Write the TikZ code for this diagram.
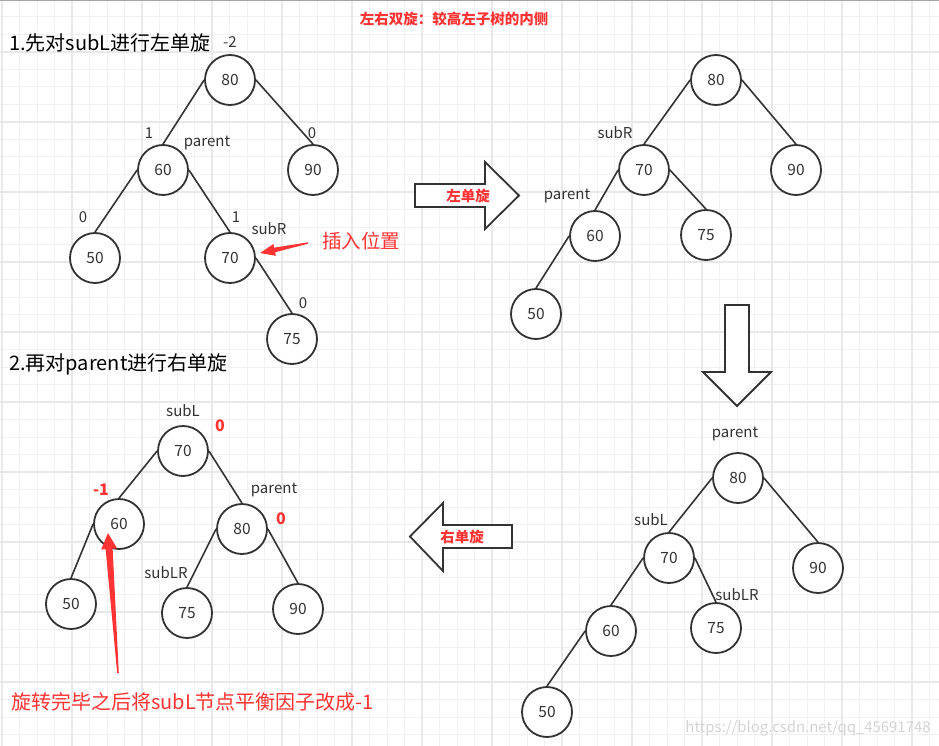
\documentclass[tikz,border=0pt]{standalone}
\usepackage{fontspec}
\setmainfont{Noto Sans CJK SC}
\usetikzlibrary{calc}
\definecolor{ink}{HTML}{333333}
\definecolor{redc}{HTML}{FF3333}
\definecolor{gminor}{HTML}{F1F1F1}
\definecolor{gmajor}{HTML}{E8E8E8}
\definecolor{wmark}{HTML}{D4D4D4}
\newcommand\fsz[1]{\fontsize{#1}{#1}\selectfont}
\newcommand\taperarrow[6]{%
  \coordinate (hb) at ($(#2)!#3!(#1)$);
  \fill[redc] (#2) -- ($(hb)!#4!90:(#1)$) -- ($(hb)!#5!90:(#1)$)
    -- ($(#1)!#6!-90:(#2)$) -- ($(#1)!#6!90:(#2)$)
    -- ($(hb)!#5!-90:(#1)$) -- ($(hb)!#4!-90:(#1)$) -- cycle;
}
\tikzset{
  tn/.style={circle, draw=ink, fill=white, line width=1.8pt, minimum size=50pt,
    inner sep=0pt, font=\fsz{15.5}, text=ink},
  edge/.style={draw=ink, line width=1.6pt},
  lbl/.style={inner sep=0pt, font=\fsz{15}, text=ink},
  rlbl/.style={inner sep=0pt, font=\fsz{16}\bfseries, text=redc},
  title/.style={inner sep=0pt, anchor=west, font=\fsz{20}, text=black},
  blockarrow/.style={draw=ink, fill=white, line width=1.8pt, line join=miter},
  arrlbl/.style={inner sep=0pt, font=\fsz{14.5}\bfseries, text=redc}
}
\begin{document}
\begin{tikzpicture}[x=1pt,y=-1pt]
\useasboundingbox (0,0) rectangle (939,746);
\fill[white] (0,0) rectangle (939,746);
% grid
\foreach \i in {0,...,53} \draw[gminor, line width=1pt] ({2+17.5*\i},0) -- ({2+17.5*\i},746);
\foreach \i in {0,...,42} \draw[gminor, line width=1pt] (0,{-0.5+17.5*\i}) -- (939,{-0.5+17.5*\i});
\foreach \i in {0,...,13} \draw[gmajor, line width=1.3pt] ({2+70*\i},0) -- ({2+70*\i},746);
\foreach \i in {0,...,9} \draw[gmajor, line width=1.3pt] (0,{52+70*\i}) -- (939,{52+70*\i});
\draw[gray!70, line width=1.5pt] (0,0.75) -- (939,0.75);

% headings
\node[inner sep=0pt, font=\fsz{14.5}\bfseries, text=redc] (head) at (454,19) {左右双旋：较高左子树的内侧};
\node[title] (t1) at (9,43) {1.先对subL进行左单旋};
\node[title] (t2) at (9,364) {2.再对parent进行右单旋};

% ---------- tree 1 ----------
\node[tn] (a80) at (230,80) {80};
\node[tn] (a60) at (163,170) {60};
\node[tn] (a90) at (313,170) {90};
\node[tn] (a50) at (95,258) {50};
\node[tn] (a70) at (230,258) {70};
\node[tn] (a75) at (292,339) {75};
\draw[edge] (a80.west) -- (a60.north);
\draw[edge] (a80.east) -- (a90.north);
\draw[edge] (a60.west) -- (a50.north);
\draw[edge] (a60.east) -- (a70.north);
\draw[edge] (a70.east) -- (a75.north);
\node[lbl] (ab80) at (230,42) {-2};
\node[lbl] (ab60) at (149,133) {1};
\node[lbl] (ap60) at (207,143) {parent};
\node[lbl] (ab90) at (312,133) {0};
\node[lbl] (ab50) at (83,217) {0};
\node[lbl] (ab70) at (236,217) {1};
\node[lbl] (as70) at (269,229) {subR};
\node[lbl] (ab75) at (303,303) {0};
\node[inner sep=0pt, font=\fsz{19.5}, text=redc] (ins) at (361,241) {插入位置};
\coordinate (insT) at (308,243);
\coordinate (insH) at (260,253);
\taperarrow{insT}{insH}{15pt}{6pt}{2.3pt}{0.7pt}

% arrow left rotation
\draw[blockarrow] (415,184) -- (485,184) -- (485,162) -- (519,195.5) -- (485,229) -- (485,207) -- (415,207) -- cycle;
\node[arrlbl] (lrot) at (468,195.5) {左单旋};

% ---------- tree 2 ----------
\node[tn] (b80) at (716,80) {80};
\node[tn] (b70) at (644,170) {70};
\node[tn] (b90) at (796,170) {90};
\node[tn] (b60) at (595,236) {60};
\node[tn] (b75) at (706,235) {75};
\node[tn] (b50) at (536,314) {50};
\draw[edge] (b80.west) -- (b70.north);
\draw[edge] (b80.east) -- (b90.north);
\draw[edge] (b70.west) -- (b60.north);
\draw[edge] (b70.east) -- (b75.north);
\draw[edge] (b60.west) -- (b50.north);
\node[lbl] (bs70) at (615,133) {subR};
\node[lbl] (bp60) at (567,196) {parent};

% down arrow
\draw[blockarrow] (725,305) -- (749,305) -- (749,372) -- (771,372) -- (737,406) -- (703,372) -- (725,372) -- cycle;

% ---------- tree 4 (bottom right) ----------
\node[tn] (d80) at (738,478) {80};
\node[tn] (d70) at (669,558) {70};
\node[tn] (d90) at (818,568) {90};
\node[tn] (d60) at (611,631) {60};
\node[tn] (d75) at (716,628) {75};
\node[tn] (d50) at (547,712) {50};
\draw[edge] (d80.west) -- (d70.north);
\draw[edge] (d80.east) -- (d90.north);
\draw[edge] (d70.west) -- (d60.north);
\draw[edge] (d70.east) -- (d75.north);
\draw[edge] (d60.west) -- (d50.north);
\node[lbl] (dp80) at (735,434) {parent};
\node[lbl] (ds70) at (651,520) {subL};
\node[lbl] (ds75) at (737,595) {subLR};

% left arrow
\draw[blockarrow] (512,525) -- (443,525) -- (443,503) -- (410,536.5) -- (443,571) -- (443,548) -- (512,548) -- cycle;
\node[arrlbl] (rrot) at (462,536.5) {右单旋};

% ---------- tree 3 (bottom left) ----------
\node[tn] (c70) at (183,451) {70};
\node[tn] (c60) at (119,524) {60};
\node[tn] (c80) at (242,529) {80};
\node[tn] (c50) at (71,604) {50};
\node[tn] (c75) at (187,613) {75};
\node[tn] (c90) at (298,609) {90};
\draw[edge] (c70.west) -- (c60.north);
\draw[edge] (c70.east) -- (c80.north);
\draw[edge] (c60.west) -- (c50.north);
\draw[edge] (c80.west) -- (c75.north);
\draw[edge] (c80.east) -- (c90.north);
\node[lbl] (cs70) at (183,411) {subL};
\node[rlbl] (cb70) at (220,426) {0};
\node[rlbl] (cb60) at (101,490) {-1};
\node[lbl] (cp80) at (274,490) {parent};
\node[rlbl] (cb80) at (281,519) {0};
\node[lbl] (cs75) at (166,573) {subLR};
\coordinate (noteT) at (118,673);
\coordinate (noteH) at (108,533);
\taperarrow{noteT}{noteH}{16pt}{8pt}{3.5pt}{0.8pt}
\node[inner sep=0pt, anchor=west, font=\fsz{20}, text=redc] (note) at (11,702) {旋转完毕之后将subL节点平衡因子改成-1};

% watermark
\node[inner sep=0pt, font=\fsz{14.9}, text=wmark] (wm) at (808,728) {https://blog.csdn.net/qq\_45691748};
\end{tikzpicture}
\end{document}
